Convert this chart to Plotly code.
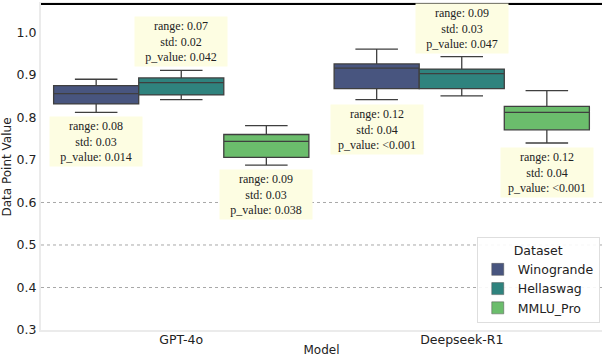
import plotly.graph_objects as go

# data
models = ["GPT-4o", "Deepseek-R1"]
datasets = ["Winogrande", "Hellaswag", "MMLU_Pro"]
colors = {"Winogrande": "#48557f", "Hellaswag": "#2f837e", "MMLU_Pro": "#6bbd6c"}

lower = {"Winogrande": [0.812, 0.842], "Hellaswag": [0.842, 0.851], "MMLU_Pro": [0.688, 0.740]}
q1 = {"Winogrande": [0.832, 0.868], "Hellaswag": [0.853, 0.868], "MMLU_Pro": [0.706, 0.771]}
median = {"Winogrande": [0.856, 0.916], "Hellaswag": [0.882, 0.903], "MMLU_Pro": [0.744, 0.812]}
q3 = {"Winogrande": [0.875, 0.926], "Hellaswag": [0.893, 0.914], "MMLU_Pro": [0.760, 0.826]}
upper = {"Winogrande": [0.890, 0.961], "Hellaswag": [0.911, 0.943], "MMLU_Pro": [0.781, 0.863]}

ranges = {"Winogrande": ["0.08", "0.12"], "Hellaswag": ["0.07", "0.09"], "MMLU_Pro": ["0.09", "0.12"]}
stds = {"Winogrande": ["0.03", "0.04"], "Hellaswag": ["0.02", "0.03"], "MMLU_Pro": ["0.03", "0.04"]}
pvals = {"Winogrande": ["0.014", "<0.001"], "Hellaswag": ["0.042", "0.047"], "MMLU_Pro": ["0.038", "<0.001"]}
label_above = {"Winogrande": False, "Hellaswag": True, "MMLU_Pro": False}

grid_values = [0.4, 0.5, 0.6]
y_ticks = [0.3, 0.4, 0.5, 0.6, 0.7, 0.8, 0.9, 1.0]

box_gap = 0.09
box_w = (1 - box_gap) / len(datasets)

fig = go.Figure()
for d in datasets:
    fig.add_trace(go.Box(
        x=models, q1=q1[d], median=median[d], q3=q3[d],
        lowerfence=lower[d], upperfence=upper[d],
        name=d, offsetgroup=d, boxpoints=False,
        fillcolor=colors[d], line=dict(color="#3f3f3f", width=1.3),
        whiskerwidth=0.5, showlegend=False, hoverinfo="skip",
    ))
    # plain swatch for the legend
    fig.add_trace(go.Bar(x=[None], y=[None], name=d,
                         marker=dict(color=colors[d], line=dict(color="#555", width=0.5))))

# stat labels
for i, d in enumerate(datasets):
    for j, m in enumerate(models):
        txt = "range: %s<br>std: %s<br>p_value: %s" % (ranges[d][j], stds[d][j], pvals[d][j])
        above = label_above[d]
        fig.add_annotation(
            x=j + (i - 1) * box_w, y=upper[d][j] if above else lower[d][j],
            xref="x", yref="y", text=txt, showarrow=False,
            yanchor="bottom" if above else "top", yshift=3 if above else -4,
            font=dict(family="Liberation Serif", size=12, color="#222"),
            bgcolor="#fdfde2", borderpad=2, width=88,
        )

for g in grid_values:
    fig.add_shape(type="line", xref="paper", yref="y", x0=0, x1=1, y0=g, y1=g,
                  line=dict(color="#a8a8a8", width=1, dash="dot"), layer="below")

# black top spine
fig.add_shape(type="line", xref="paper", yref="paper", x0=0, x1=1, y0=1, y1=1,
              line=dict(color="black", width=2))

fig.update_layout(
    width=608, height=358,
    margin=dict(l=40, r=6, t=2, b=28),
    plot_bgcolor="white", paper_bgcolor="white",
    boxmode="group", boxgap=box_gap, boxgroupgap=0,
    font=dict(family="DejaVu Sans", size=12, color="#222"),
    legend=dict(
        title=dict(text="Dataset", side="top center", font=dict(size=12.5)),
        x=0.996, y=0.02, xanchor="right", yanchor="bottom",
        bgcolor="rgba(255,255,255,0.9)", bordercolor="#dedede", borderwidth=1,
        font=dict(size=12.5), itemwidth=30, tracegroupgap=0,
    ),
)
fig.update_xaxes(title=dict(text="Model", standoff=0, font=dict(size=12)),
                 ticklabelstandoff=-3, tickfont=dict(size=12.5),
                 showline=True, linecolor="#ebebeb",
                 linewidth=2, mirror=True, showgrid=False, ticks="")
fig.update_yaxes(title=dict(text="Data Point Value", standoff=6, font=dict(size=12)),
                 range=[0.3, 1.067], tickfont=dict(size=12.5),
                 tickvals=y_ticks, tickformat=".1f", showline=True, linecolor="#ebebeb",
                 linewidth=2, showgrid=False, zeroline=False, ticks="")

# the page's default body margin would shift the figure by 8px
fig.write_html("out.html", config={"displayModeBar": False},
               post_script="document.body.style.margin='0';")
